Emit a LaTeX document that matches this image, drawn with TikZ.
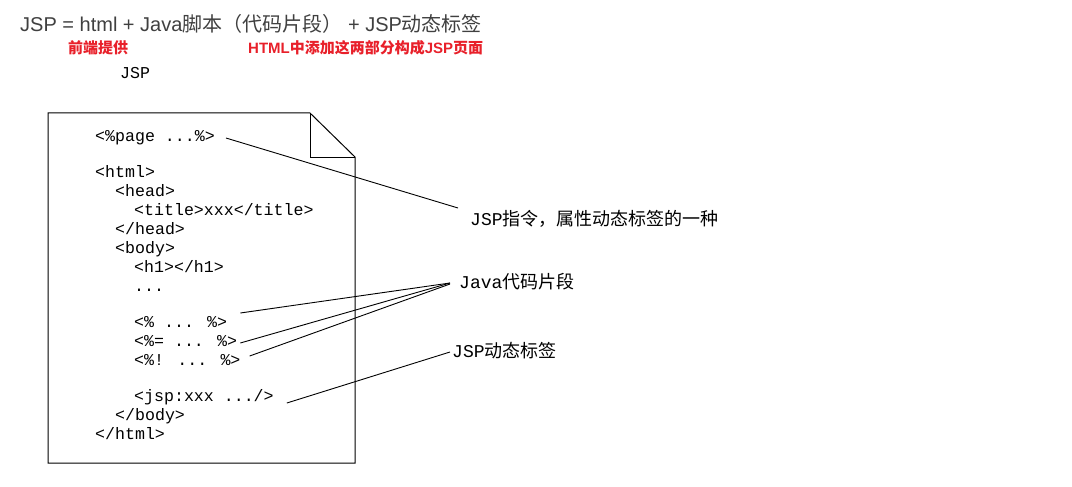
\documentclass[tikz,border=0pt]{standalone}
\usepackage{fontspec}
\usetikzlibrary{calc}
\setmainfont{Liberation Sans}
\newfontfamily\cjk{Noto Sans CJK SC}
\newfontfamily\code{Liberation Mono}
\definecolor{titlegray}{HTML}{404040}
\definecolor{notered}{HTML}{E8202A}
\tikzset{
  codeline/.style={anchor=west, inner sep=0pt, text height=11pt, text depth=3pt, font=\code\fontsize{16.6}{18}\selectfont},
  label/.style={anchor=west, inner sep=0pt, font=\fontsize{18}{20}\selectfont},
  note/.style={anchor=west, inner sep=0pt, text=notered, font=\bfseries\fontsize{15}{16}\selectfont},
  conn/.style={draw=black, line width=0.9pt},
  docline/.style={draw=black, line width=1pt}
}
\begin{document}
\begin{tikzpicture}[x=1pt,y=-1pt]
\useasboundingbox (0,0) rectangle (1072,487);
% title
\node[anchor=west, inner sep=0pt, text=titlegray, font=\fontsize{20}{22}\selectfont] (title) at (20,24)
  {JSP = html + Java{\cjk 脚本（代码片段）} + JSP{\cjk 动态标签}};
\node[note] (n1) at (68,48) {\cjk 前端提供};
\node[note] (n2) at (248,48) {HTML{\cjk 中添加这两部分构成}JSP{\cjk 页面}};
\node[codeline] (jsp) at (120,75) {JSP};
% document sheet
\draw[docline] (48,113) -- (310,113) -- (355,157) -- (355,463) -- (48,463) -- cycle;
\draw[docline] (310,113) -- (310,157) -- (355,157);
% code
\node[codeline] (p1) at (95,137) {<\%page ...\%>};
\node[codeline] (h1) at (95,173) {<html>};
\node[codeline] (h2) at (115,192) {<head>};
\node[codeline] (h3) at (134,211) {<title>xxx</title>};
\node[codeline] (h4) at (115,230) {</head>};
\node[codeline] (h5) at (115,249) {<body>};
\node[codeline] (h6) at (134,268) {<h1></h1>};
\node[codeline] (h7) at (134,287) {...};
\node[codeline] (c1) at (134,323) {<\% ... \%>};
\node[codeline] (c2) at (134,342) {<\%= ... \%>};
\node[codeline] (c3) at (134,361) {<\%! ... \%>};
\node[codeline] (c4) at (134,397) {<jsp:xxx .../>};
\node[codeline] (h8) at (115,416) {</body>};
\node[codeline] (h9) at (95,435) {</html>};
% labels
\node[label] (l1) at (470,219) {{\code JSP}{\cjk 指令，属性动态标签的一种}};
\node[label] (l2) at (459,282) {{\code Java}{\cjk 代码片段}};
\node[label] (l3) at (452,351) {{\code JSP}{\cjk 动态标签}};
% connectors
\draw[conn] ($(p1.east)+(11,1)$) -- ($(l1.west)+(-12,-11)$);
\draw[conn] ($(c1.east)+(13,-10)$) -- ($(l2.west)+(-9,1)$);
\draw[conn] ($(c2.east)+(3,1)$) -- ($(l2.west)+(-9,1)$);
\draw[conn] ($(c3.east)+(9,-5)$) -- ($(l2.west)+(-9,2)$);
\draw[conn] ($(c4.east)+(13,6)$) -- ($(l3.west)+(-2,1)$);
\end{tikzpicture}
\end{document}
